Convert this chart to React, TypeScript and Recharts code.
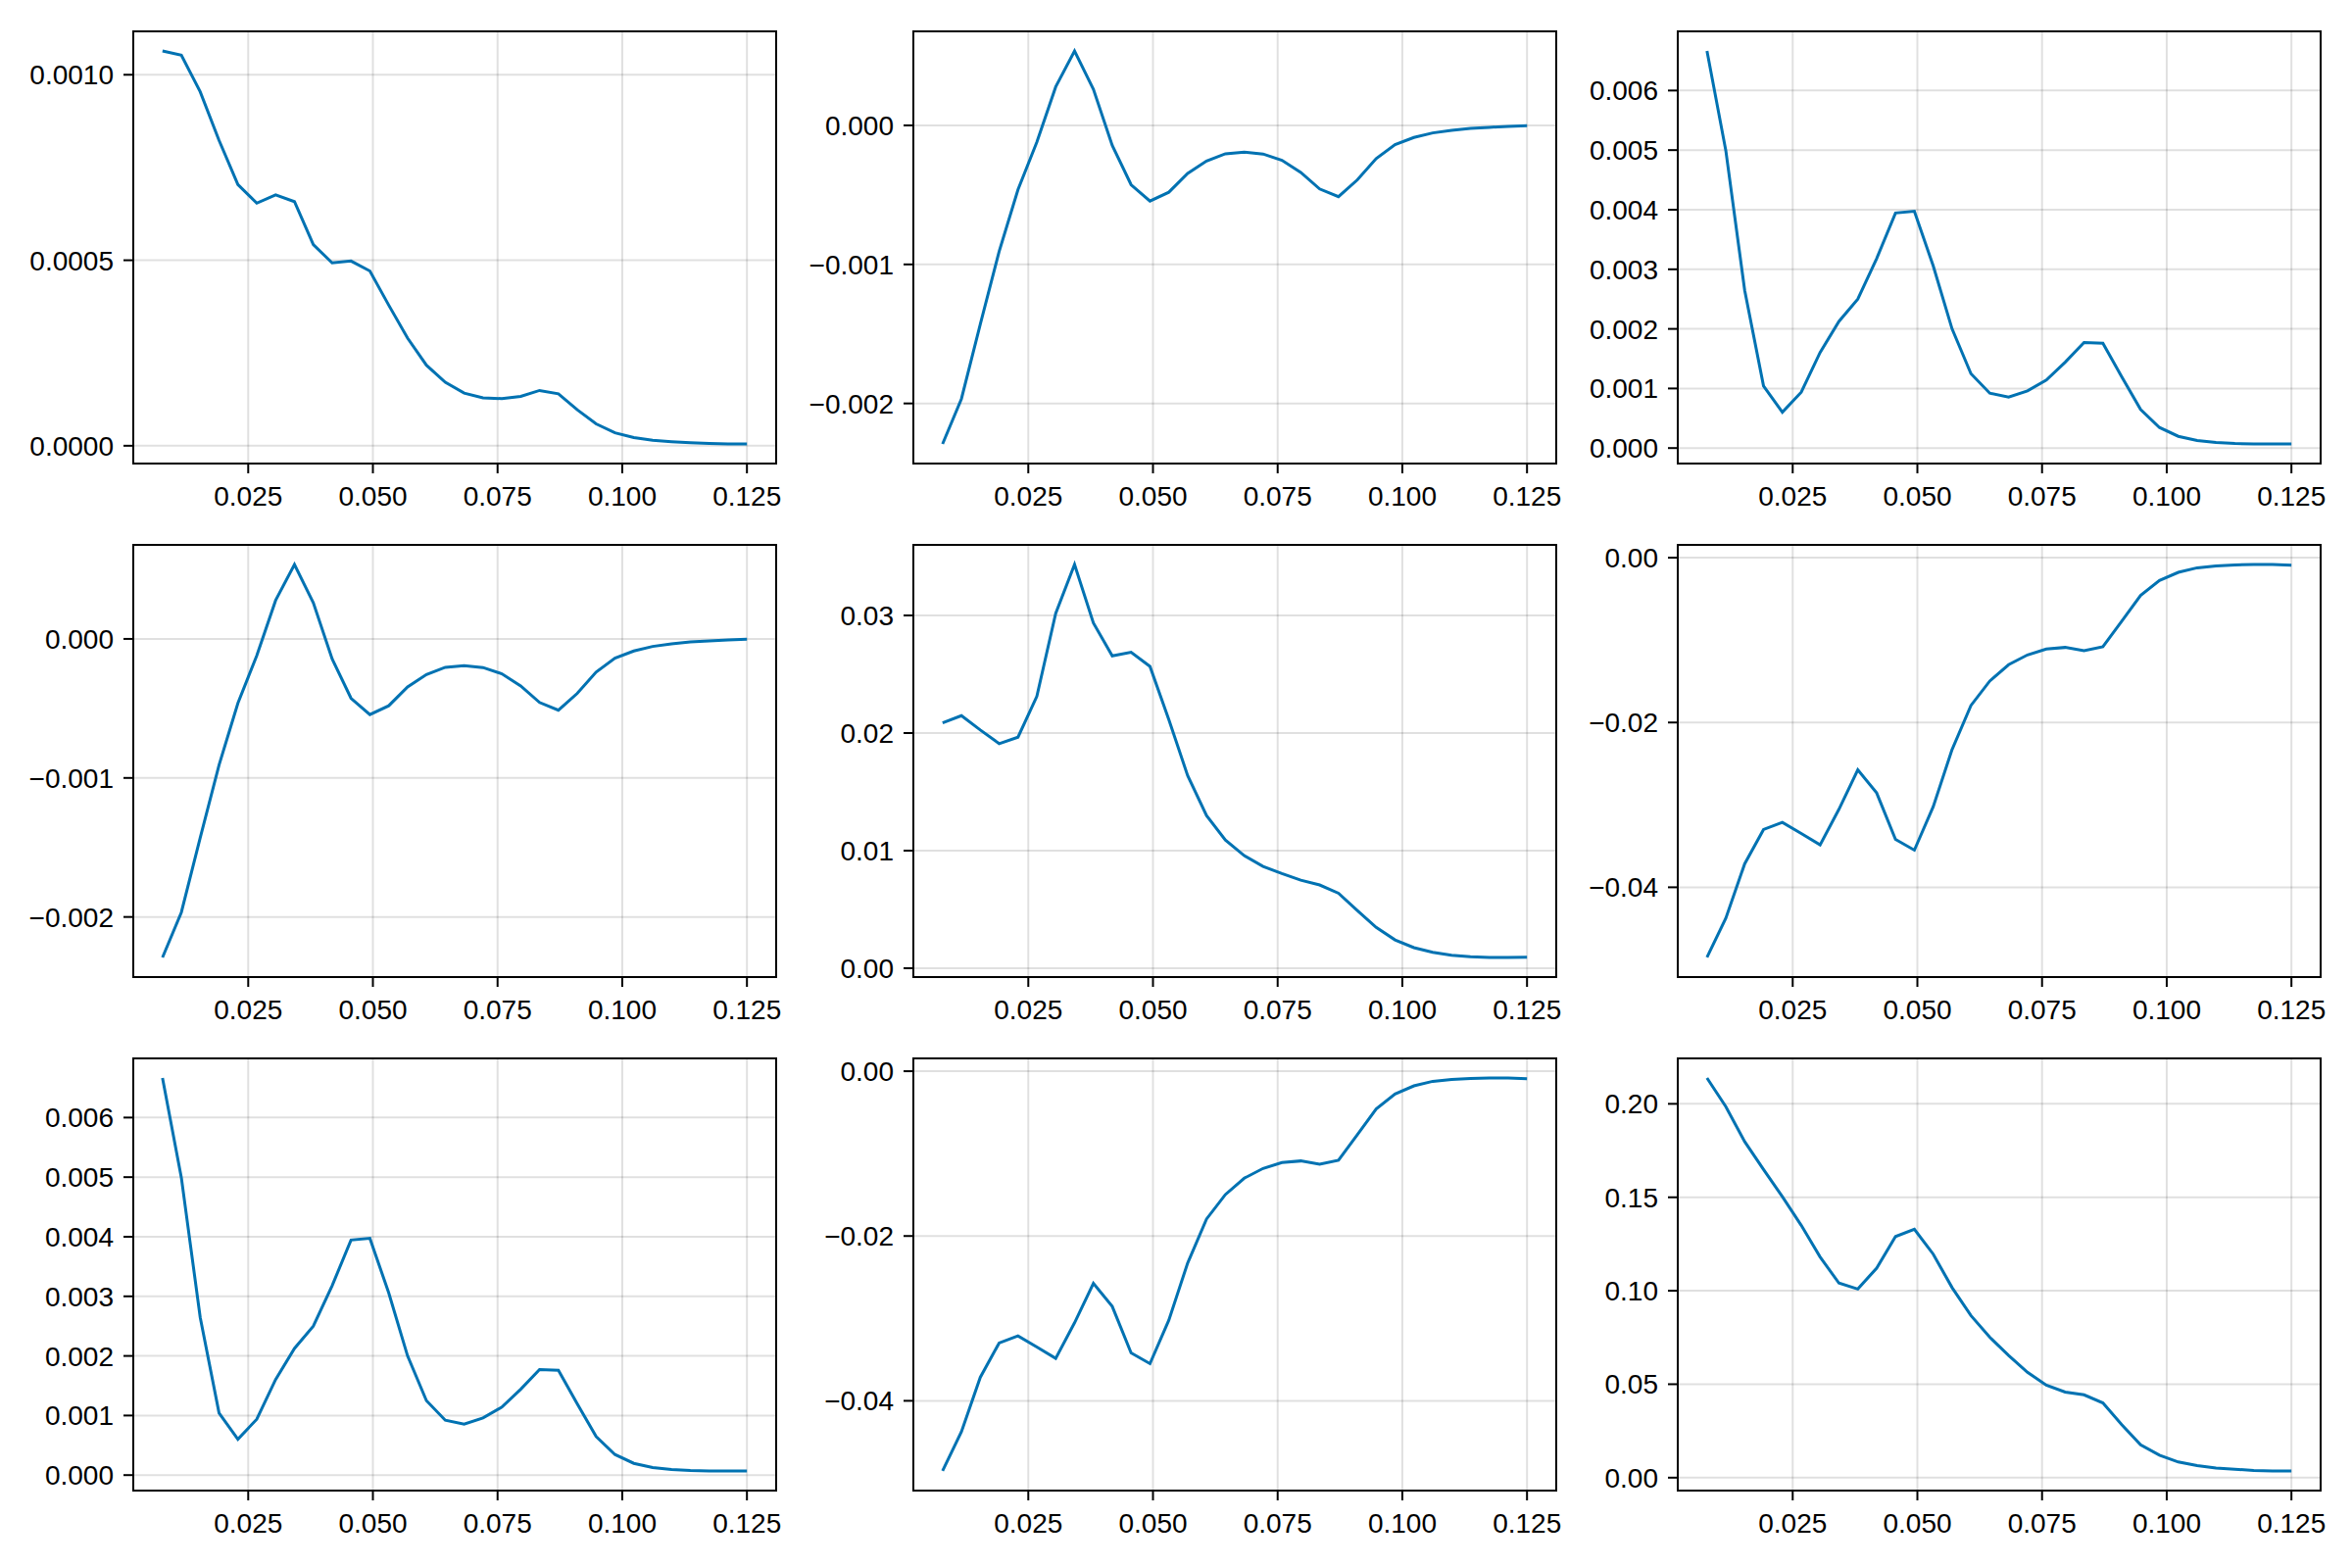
import { LineChart, Line, XAxis, YAxis, CartesianGrid, ReferenceArea } from "recharts";

const xs = [
  0.007813, 0.011593, 0.015373, 0.019153, 0.022934, 0.026714, 0.030494, 0.034274,
  0.038055, 0.041835, 0.045615, 0.049395, 0.053176, 0.056956, 0.060736, 0.064516,
  0.068296, 0.072077, 0.075857, 0.079637, 0.083417, 0.087198, 0.090978, 0.094758,
  0.098538, 0.102319, 0.106099, 0.109879, 0.113659, 0.11744, 0.12122, 0.125,
];
const xTicks = [0.025, 0.05, 0.075, 0.1, 0.125];
const xTickLabels = ["0.025", "0.050", "0.075", "0.100", "0.125"];

const seriesA = [
  0.001064, 0.001053, 0.000954, 0.000823, 0.000704, 0.000654, 0.000676, 0.000658,
  0.000542, 0.000493, 0.000498, 0.000471, 0.000379, 0.00029, 0.000217, 0.000171,
  0.000142, 0.000129, 0.000127, 0.000133, 0.000149, 0.00014, 0.000097, 0.000059,
  0.000035, 0.000022, 0.000015, 0.000011, 0.000008, 0.000006, 0.000005, 0.000005,
];
const seriesB = [
  -0.002291, -0.001967, -0.00143, -0.000907, -0.000462, -0.00012, 0.000277, 0.000535,
  0.00026, -0.000145, -0.000427, -0.000544, -0.000481, -0.000345, -0.000256, -0.000204,
  -0.000192, -0.000206, -0.000251, -0.000338, -0.000457, -0.000513, -0.000392, -0.000239,
  -0.000138, -0.000087, -0.000054, -0.000035, -0.000021, -0.000014, -0.000007, -0.000002,
];
const seriesC = [
  0.006663, 0.004992, 0.002647, 0.001041, 0.000603, 0.000937, 0.001605, 0.002126,
  0.002499, 0.00318, 0.003945, 0.003973, 0.003058, 0.002, 0.001249, 0.000921,
  0.000855, 0.000959, 0.00114, 0.001441, 0.00177, 0.001759, 0.001195, 0.000647,
  0.000345, 0.000197, 0.000126, 0.000093, 0.000077, 0.000071, 0.00007, 0.00007,
];
const seriesD = [
  0.02087, 0.02148, 0.02026, 0.0191, 0.01965, 0.02312, 0.03017, 0.03433,
  0.02936, 0.02656, 0.02687, 0.02567, 0.02115, 0.01638, 0.01299, 0.01091,
  0.00958, 0.00866, 0.00805, 0.00749, 0.00708, 0.00638, 0.00491, 0.00347,
  0.00241, 0.00175, 0.00136, 0.00111, 0.00097, 0.00092, 0.00092, 0.00094,
];
const seriesE = [
  -0.04851, -0.04376, -0.03715, -0.03299, -0.03212, -0.03347, -0.03485, -0.03053,
  -0.02574, -0.02855, -0.03418, -0.03549, -0.03022, -0.02329, -0.01794, -0.01497,
  -0.01299, -0.0118, -0.01109, -0.01089, -0.01129, -0.01081, -0.00772, -0.00459,
  -0.00277, -0.00178, -0.00123, -0.00099, -0.00087, -0.00083, -0.00083, -0.00091,
];
const seriesF = [
  0.2138, 0.1985, 0.1798, 0.1649, 0.1503, 0.135, 0.1181, 0.1041,
  0.1009, 0.1121, 0.129, 0.1329, 0.1196, 0.1017, 0.0867, 0.0751,
  0.0654, 0.0564, 0.0495, 0.0458, 0.0443, 0.04, 0.0284, 0.0176,
  0.012, 0.0084, 0.0065, 0.0052, 0.0045, 0.0039, 0.0036, 0.0036,
];

const ticksA = [0, 0.0005, 0.001];
const labelsA = ["0.0000", "0.0005", "0.0010"];
const ticksB = [-0.002, -0.001, 0];
const labelsB = ["\u22120.002", "\u22120.001", "0.000"];
const ticksC = [0, 0.001, 0.002, 0.003, 0.004, 0.005, 0.006];
const labelsC = ["0.000", "0.001", "0.002", "0.003", "0.004", "0.005", "0.006"];
const ticksD = [0, 0.01, 0.02, 0.03];
const labelsD = ["0.00", "0.01", "0.02", "0.03"];
const ticksE = [-0.04, -0.02, 0];
const labelsE = ["\u22120.04", "\u22120.02", "0.00"];
const ticksF = [0, 0.05, 0.1, 0.15, 0.2];
const labelsF = ["0.00", "0.05", "0.10", "0.15", "0.20"];

type PanelDef = { y: number[]; ticks: number[]; labels: string[] };

const A: PanelDef = { y: seriesA, ticks: ticksA, labels: labelsA };
const B: PanelDef = { y: seriesB, ticks: ticksB, labels: labelsB };
const C: PanelDef = { y: seriesC, ticks: ticksC, labels: labelsC };
const D: PanelDef = { y: seriesD, ticks: ticksD, labels: labelsD };
const E: PanelDef = { y: seriesE, ticks: ticksE, labels: labelsE };
const F: PanelDef = { y: seriesF, ticks: ticksF, labels: labelsF };

// 3x3 grid, row by row
const panels = [A, B, C, B, D, E, C, E, F];

// plot-box layout
const COL_LEFT = [136, 931.5, 1712];
const ROW_TOP = [32, 556, 1080];
const BOX_W = 656;
const BOX_H = 441;
const Y_AXIS_W = 130;
const X_AXIS_H = 70;
const PAD_T = 10;
const PAD_R = 12;

const TICK_STYLE = { fontSize: 28, fill: "#000", fontFamily: "'Liberation Sans', Arial, sans-serif" };
const TICK_LINE = { stroke: "#000", strokeWidth: 2 };

function padded(lo: number, hi: number): [number, number] {
  const r = hi - lo;
  return [lo - 0.05 * r, hi + 0.05 * r];
}

function findLabel(ticks: number[], labels: string[], v: number) {
  const i = ticks.findIndex((t) => Math.abs(t - v) < 1e-9);
  return i >= 0 ? labels[i] : String(v);
}

function Panel({ p, left, top }: { p: PanelDef; left: number; top: number }) {
  const data = xs.map((x, i) => ({ x, y: p.y[i] }));
  const [x0, x1] = padded(xs[0], xs[xs.length - 1]);
  const [y0, y1] = padded(Math.min(...p.y), Math.max(...p.y));

  return (
    <div style={{ position: "absolute", left: left - Y_AXIS_W, top: top - PAD_T }}>
      <LineChart
        width={Y_AXIS_W + BOX_W + PAD_R}
        height={PAD_T + BOX_H + X_AXIS_H}
        data={data}
        margin={{ top: PAD_T, right: PAD_R, bottom: 0, left: 0 }}
      >
        <CartesianGrid stroke="rgba(0,0,0,0.12)" strokeWidth={2} />
        <XAxis
          type="number"
          dataKey="x"
          domain={[x0, x1]}
          ticks={xTicks}
          allowDataOverflow
          interval={0}
          height={X_AXIS_H}
          axisLine={false}
          tickLine={TICK_LINE}
          tickSize={10}
          tickMargin={13}
          tick={TICK_STYLE}
          tickFormatter={(v) => findLabel(xTicks, xTickLabels, Number(v))}
        />
        <YAxis
          type="number"
          domain={[y0, y1]}
          ticks={p.ticks}
          allowDataOverflow
          interval={0}
          width={Y_AXIS_W}
          axisLine={false}
          tickLine={TICK_LINE}
          tickSize={10}
          tickMargin={10}
          tick={TICK_STYLE}
          tickFormatter={(v) => findLabel(p.ticks, p.labels, Number(v))}
        />
        <ReferenceArea x1={x0} x2={x1} y1={y0} y2={y1} fill="none" stroke="#000" strokeWidth={2} />
        <Line
          type="linear"
          dataKey="y"
          stroke="#0072B2"
          strokeWidth={3}
          dot={false}
          isAnimationActive={false}
        />
      </LineChart>
    </div>
  );
}

export default function App() {
  return (
    <div style={{ position: "absolute", left: 0, top: 0, width: 2400, height: 1600, background: "#fff" }}>
      {panels.map((p, i) => (
        <Panel key={i} p={p} left={COL_LEFT[i % 3]} top={ROW_TOP[Math.floor(i / 3)]} />
      ))}
    </div>
  );
}
